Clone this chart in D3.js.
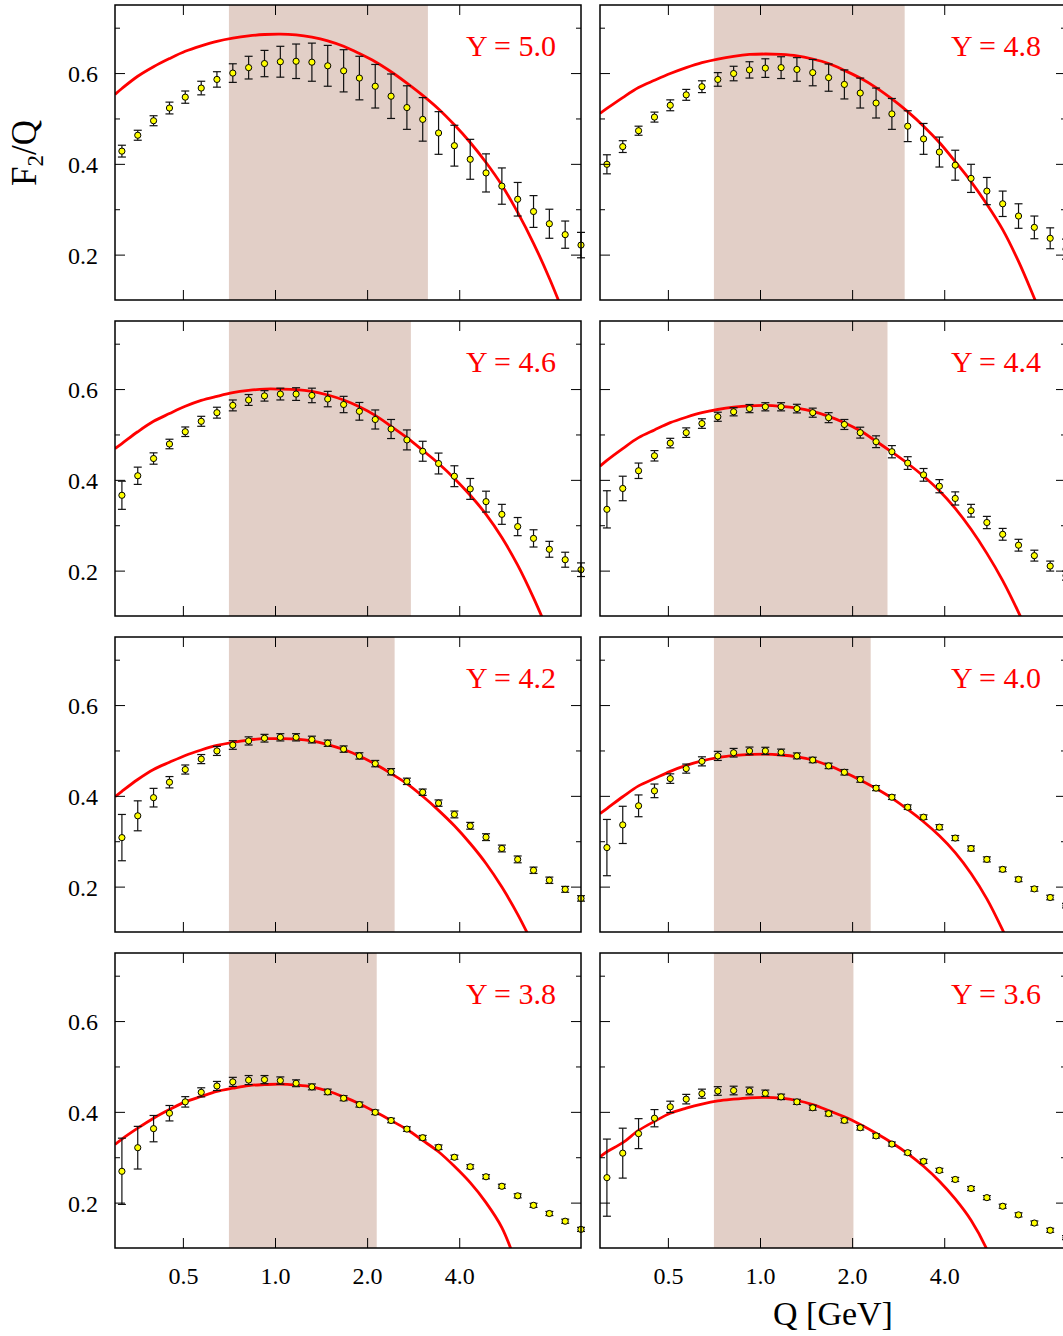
<!DOCTYPE html>
<html>
<head>
<meta charset="utf-8">
<script src="https://cdn.jsdelivr.net/npm/d3@7"></script>
<style>
  html, body { margin: 0; padding: 0; background: #fff; overflow: hidden; }
  svg { display: block; }
  text { font-family: "Liberation Serif", "DejaVu Serif", serif; }
</style>
</head>
<body>
<svg id="chart" width="1063" height="1336"></svg>
<script>
// ---------------- data ----------------
const qValues = [0.316,0.356,0.401,0.452,0.509,0.574,0.646,0.728,0.820,0.924,
                 1.041,1.172,1.320,1.487,1.676,1.887,2.126,2.395,2.698,3.039,
                 3.424,3.857,4.345,4.894,5.513,6.210,6.996,7.881,8.878,10.0];
const theoryQ = [0.300,0.316,0.356,0.401,0.452,0.509,0.574,0.646,0.728,0.820,0.924,
                 1.041,1.172,1.320,1.487,1.676,1.887,2.126,2.395,2.698,3.039,
                 3.424,3.857,4.345,4.894,5.513,6.210,6.996,7.881,8.878,10.0];
const rapidities = ["5.0","4.8","4.6","4.4","4.2","4.0","3.8","3.6"];
const shadeStart = [0.707,0.707,0.707,0.707,0.707,0.707,0.707,0.707];
const shadeEnd   = [3.16,2.97,2.78,2.61,2.46,2.30,2.15,2.02];
const xTickValues = [0.5,1.0,2.0,4.0];
const yMajorTicks = [0.2,0.4,0.6];
const yMinorTicks = [0.3,0.5,0.7];

const f2Y50 = [0.428,0.463,0.495,0.523,0.547,0.567,0.586,0.600,0.612,0.621,0.625,0.626,0.624,0.616,0.605,0.589,0.571,0.549,0.524,0.498,0.468,0.440,0.410,0.380,0.351,0.322,0.295,0.268,0.244,0.221];
const errY50 = [0.013,0.011,0.011,0.013,0.0135,0.015,0.017,0.0205,0.025,0.029,0.034,0.038,0.042,0.045,0.0465,0.048,0.048,0.049,0.048,0.048,0.047,0.045,0.044,0.042,0.040,0.037,0.035,0.032,0.030,0.028];
const thY50  = [0.553,0.566,0.593,0.614,0.632,0.648,0.660,0.670,0.677,0.682,0.685,0.686,0.684,0.679,0.671,0.659,0.643,0.625,0.603,0.578,0.551,0.521,0.486,0.447,0.403,0.353,0.293,0.225,0.148,0.062,null];

const f2Y48 = [0.399,0.438,0.473,0.503,0.529,0.552,0.570,0.586,0.599,0.607,0.611,0.612,0.608,0.601,0.590,0.575,0.556,0.534,0.510,0.483,0.455,0.426,0.397,0.368,0.340,0.312,0.285,0.260,0.236,0.212];
const errY48 = [0.021,0.013,0.010,0.011,0.012,0.012,0.013,0.015,0.016,0.018,0.0205,0.024,0.026,0.029,0.030,0.032,0.033,0.033,0.034,0.034,0.034,0.033,0.033,0.031,0.030,0.028,0.027,0.025,0.023,0.022];
const thY48  = [0.511,0.522,0.546,0.568,0.584,0.599,0.612,0.623,0.631,0.637,0.641,0.642,0.641,0.638,0.631,0.621,0.606,0.589,0.568,0.543,0.515,0.483,0.447,0.405,0.361,0.311,0.255,0.185,0.104,0.020,null];

const f2Y46 = [0.366,0.409,0.447,0.479,0.506,0.529,0.548,0.564,0.576,0.585,0.589,0.589,0.586,0.578,0.566,0.551,0.533,0.512,0.488,0.463,0.436,0.408,0.380,0.352,0.324,0.297,0.271,0.247,0.224,0.202];
const errY46 = [0.031,0.019,0.0125,0.0105,0.0105,0.011,0.012,0.012,0.012,0.0115,0.013,0.014,0.016,0.017,0.018,0.0195,0.021,0.021,0.022,0.022,0.023,0.023,0.023,0.023,0.022,0.020,0.019,0.0175,0.0165,0.015];
const thY46  = [0.469,0.480,0.506,0.529,0.546,0.562,0.575,0.584,0.592,0.597,0.600,0.600,0.599,0.595,0.587,0.576,0.561,0.542,0.518,0.493,0.465,0.436,0.403,0.366,0.324,0.273,0.212,0.140,0.060,null,null];

const f2Y44 = [0.335,0.381,0.420,0.453,0.481,0.504,0.524,0.539,0.550,0.557,0.561,0.561,0.557,0.548,0.537,0.522,0.504,0.484,0.462,0.437,0.411,0.386,0.359,0.332,0.306,0.280,0.256,0.233,0.210,0.189];
const errY44 = [0.041,0.027,0.017,0.0115,0.0105,0.0105,0.0105,0.010,0.009,0.009,0.009,0.009,0.0095,0.010,0.011,0.011,0.012,0.013,0.0135,0.014,0.014,0.0145,0.0145,0.014,0.0135,0.013,0.013,0.012,0.011,0.010];
const thY44  = [0.430,0.443,0.469,0.493,0.510,0.526,0.538,0.548,0.555,0.560,0.563,0.564,0.562,0.558,0.551,0.540,0.526,0.508,0.485,0.461,0.436,0.408,0.376,0.337,0.291,0.238,0.178,0.108,0.031,null,null];

const f2Y42 = [0.308,0.356,0.396,0.430,0.458,0.481,0.499,0.512,0.521,0.527,0.529,0.529,0.524,0.516,0.503,0.488,0.471,0.453,0.432,0.408,0.384,0.359,0.334,0.309,0.284,0.260,0.236,0.214,0.194,0.174];
const errY42 = [0.051,0.033,0.0205,0.0125,0.010,0.010,0.010,0.0095,0.009,0.0085,0.008,0.008,0.0075,0.007,0.007,0.007,0.007,0.007,0.007,0.007,0.007,0.0075,0.0075,0.0075,0.0075,0.0075,0.007,0.007,0.0065,0.006];
const thY42  = [0.398,0.410,0.436,0.458,0.474,0.489,0.501,0.511,0.518,0.523,0.526,0.526,0.525,0.521,0.513,0.502,0.488,0.470,0.449,0.427,0.399,0.368,0.334,0.295,0.251,0.199,0.139,0.070,null,null,null];

const f2Y40 = [0.286,0.336,0.378,0.411,0.438,0.460,0.476,0.488,0.495,0.499,0.499,0.496,0.488,0.479,0.466,0.452,0.436,0.417,0.397,0.375,0.353,0.331,0.307,0.284,0.260,0.238,0.216,0.195,0.176,0.158];
const errY40 = [0.062,0.041,0.024,0.015,0.0105,0.010,0.010,0.010,0.0095,0.0085,0.008,0.007,0.0065,0.006,0.006,0.006,0.006,0.0055,0.005,0.005,0.005,0.0055,0.0055,0.0055,0.0055,0.005,0.005,0.005,0.005,0.005];
const thY40  = [0.361,0.372,0.398,0.422,0.438,0.454,0.467,0.477,0.484,0.489,0.491,0.492,0.490,0.486,0.479,0.467,0.452,0.435,0.416,0.395,0.370,0.343,0.312,0.275,0.229,0.173,0.104,0.027,null,null,null];

const f2Y38 = [0.269,0.321,0.363,0.397,0.422,0.443,0.457,0.466,0.470,0.471,0.469,0.463,0.455,0.444,0.430,0.416,0.399,0.381,0.362,0.343,0.322,0.300,0.279,0.257,0.236,0.215,0.194,0.176,0.159,0.141];
const errY38 = [0.073,0.047,0.029,0.017,0.0115,0.010,0.010,0.010,0.010,0.009,0.008,0.0075,0.0065,0.006,0.0055,0.0055,0.005,0.005,0.005,0.005,0.005,0.0045,0.0045,0.0045,0.0045,0.0045,0.0045,0.0045,0.0045,0.0045];
const thY38  = [0.328,0.340,0.364,0.386,0.405,0.422,0.434,0.445,0.452,0.458,0.460,0.461,0.459,0.455,0.446,0.433,0.418,0.400,0.381,0.361,0.337,0.312,0.280,0.244,0.200,0.145,0.057,null,null,null,null];

const f2Y36 = [0.255,0.309,0.352,0.386,0.411,0.428,0.440,0.446,0.447,0.446,0.441,0.433,0.422,0.409,0.396,0.381,0.365,0.347,0.329,0.310,0.291,0.271,0.251,0.231,0.211,0.192,0.173,0.155,0.139,0.123];
const errY36 = [0.085,0.055,0.033,0.019,0.0125,0.0105,0.010,0.0095,0.0095,0.0085,0.007,0.006,0.0055,0.0055,0.005,0.005,0.005,0.0048,0.0045,0.0045,0.0045,0.0045,0.0045,0.0045,0.0045,0.0045,0.0045,0.0045,0.0045,0.0045];
const thY36  = [0.301,0.312,0.332,0.359,0.379,0.397,0.408,0.417,0.424,0.428,0.431,0.432,0.430,0.425,0.416,0.403,0.389,0.372,0.353,0.332,0.308,0.280,0.247,0.208,0.161,0.097,0.010,null,null,null,null];

const panelF2  = [f2Y50, f2Y48, f2Y46, f2Y44, f2Y42, f2Y40, f2Y38, f2Y36];
const panelErr = [errY50, errY48, errY46, errY44, errY42, errY40, errY38, errY36];
const panelTh  = [thY50, thY48, thY46, thY44, thY42, thY40, thY38, thY36];

// ---------------- layout ----------------
const W = 466, H = 295;
const colX = [115, 600];
const rowY = [5, 321, 637, 953];

const svg = d3.select("#chart");
svg.append("rect").attr("width", 1063).attr("height", 1336).attr("fill", "#fff");

const x = d3.scaleLog().domain([0.3, 10]).range([0, W]);
const y = d3.scaleLinear().domain([0.1, 0.75]).range([H, 0]);

const defs = svg.append("defs");
defs.append("clipPath").attr("id", "panelClip")
  .append("rect").attr("x", 0).attr("y", 0).attr("width", W).attr("height", H);

const line = d3.line()
  .defined(d => d[1] !== null)
  .x(d => x(d[0]))
  .y(d => y(d[1]))
  .curve(d3.curveCatmullRom.alpha(0.5));

rapidities.forEach((rap, p) => {
  const col = p % 2, row = Math.floor(p / 2);
  const g = svg.append("g").attr("transform", `translate(${colX[col]},${rowY[row]})`);

  // shaded band
  g.append("rect")
    .attr("x", x(shadeStart[p]))
    .attr("y", 0)
    .attr("width", x(shadeEnd[p]) - x(shadeStart[p]))
    .attr("height", H)
    .attr("fill", "#e2cfc7");

  // theory curve
  const th = theoryQ.map((q, i) => [q, panelTh[p][i]]);
  g.append("path")
    .attr("clip-path", "url(#panelClip)")
    .attr("d", line(th))
    .attr("fill", "none")
    .attr("stroke", "#ff0000")
    .attr("stroke-width", 2.8);

  // data points with error bars
  const pts = qValues.map((q, i) => ({q, v: panelF2[p][i], e: panelErr[p][i]}));
  const eb = g.append("g").attr("stroke", "#111").attr("stroke-width", 1.2);
  pts.forEach(d => {
    const cx = x(d.q), y1 = y(d.v + d.e), y2 = y(d.v - d.e);
    eb.append("line").attr("x1", cx).attr("x2", cx).attr("y1", y1).attr("y2", y2);
    eb.append("line").attr("x1", cx - 4).attr("x2", cx + 4).attr("y1", y1).attr("y2", y1);
    eb.append("line").attr("x1", cx - 4).attr("x2", cx + 4).attr("y1", y2).attr("y2", y2);
  });
  g.append("g").selectAll("circle").data(pts).join("circle")
    .attr("cx", d => x(d.q))
    .attr("cy", d => y(d.v))
    .attr("r", 3.1)
    .attr("fill", "#ffff00")
    .attr("stroke", "#000")
    .attr("stroke-width", 1);

  // axes (inward ticks)
  const showX = row === 3;
  const showY = col === 0;
  const fmt = d3.format(".1f");

  const styleAxis = sel => {
    sel.attr("font-family", null).attr("font-size", null);
    sel.select(".domain").remove();
    sel.selectAll(".tick line").attr("stroke", "#000").attr("stroke-width", 1);
    sel.selectAll(".tick text")
      .attr("fill", "#000")
      .style("font-family", '"Liberation Serif", serif')
      .style("font-size", "24px");
  };

  g.append("g").attr("transform", `translate(0,${H})`)
    .call(d3.axisBottom(x).tickValues(xTickValues).tickSize(-10).tickPadding(19)
      .tickFormat(showX ? fmt : () => ""))
    .call(styleAxis);
  g.append("g")
    .call(d3.axisTop(x).tickValues(xTickValues).tickSize(-10).tickFormat(() => ""))
    .call(styleAxis);

  g.append("g")
    .call(d3.axisLeft(y).tickValues(yMajorTicks).tickSize(-10).tickPadding(17)
      .tickFormat(showY ? fmt : () => ""))
    .call(styleAxis)
    .call(s => s.selectAll(".tick text").attr("dy", "0.36em"));
  g.append("g")
    .call(d3.axisLeft(y).tickValues(yMinorTicks).tickSize(-5).tickFormat(() => ""))
    .call(styleAxis);
  g.append("g").attr("transform", `translate(${W},0)`)
    .call(d3.axisRight(y).tickValues(yMajorTicks).tickSize(-10).tickFormat(() => ""))
    .call(styleAxis);
  g.append("g").attr("transform", `translate(${W},0)`)
    .call(d3.axisRight(y).tickValues(yMinorTicks).tickSize(-5).tickFormat(() => ""))
    .call(styleAxis);

  // frame
  g.append("rect")
    .attr("x", 0).attr("y", 0).attr("width", W).attr("height", H)
    .attr("fill", "none").attr("stroke", "#000").attr("stroke-width", 1.5);

  // rapidity label
  g.append("text")
    .attr("x", 441).attr("y", 51)
    .attr("text-anchor", "end")
    .attr("fill", "#ff0000")
    .style("font-size", "30px")
    .text(`Y = ${rap}`);
});

// axis titles
const yt = svg.append("text")
  .attr("transform", "translate(36,153) rotate(-90)")
  .attr("text-anchor", "middle")
  .attr("fill", "#000")
  .style("font-size", "35px");
yt.append("tspan").text("F");
yt.append("tspan").attr("dy", 7).style("font-size", "23px").text("2");
yt.append("tspan").attr("dy", -7).text("/Q");

svg.append("text")
  .attr("x", 833).attr("y", 1325)
  .attr("text-anchor", "middle")
  .attr("fill", "#000")
  .style("font-size", "34px")
  .text("Q [GeV]");
</script>
</body>
</html>
